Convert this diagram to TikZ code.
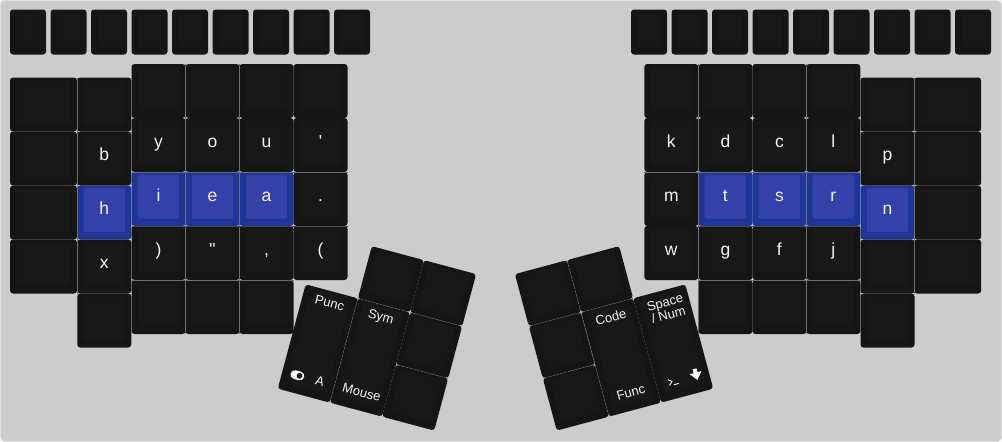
\documentclass[tikz,border=0pt]{standalone}
\usepackage{fontspec}
\usepackage{xcolor}
\newfontfamily\legendfont{Liberation Sans}
\definecolor{panelgray}{HTML}{CCCCCC}
\definecolor{paneledge}{HTML}{E2E2E2}
\definecolor{keyside}{HTML}{151515}
\definecolor{keytop}{HTML}{181818}
\definecolor{blueside}{HTML}{1F3596}
\definecolor{bluetop}{HTML}{3441A8}
\definecolor{seamgray}{HTML}{6E6E6E}
\definecolor{legendwhite}{HTML}{F4F4F4}

\begin{document}
\begin{tikzpicture}[x=1pt, y=-1pt,
base cap/.style={rectangle, inner sep=0pt, outer sep=0pt, rounded corners=3pt, minimum width=54pt, minimum height=54pt, text=legendwhite, text height=5pt, text depth=1pt, font=\legendfont\fontsize{17.5}{18}\selectfont},
cap face/.style={path picture={\fill[#1, rounded corners=2pt] ([xshift=6.3pt,yshift=7.3pt]path picture bounding box.south west) rectangle ([xshift=-6.3pt,yshift=-2.8pt]path picture bounding box.north east);}},
dark key/.style={base cap, fill=keyside, cap face=keytop},
blue key/.style={base cap, fill=blueside, cap face=bluetop},
wide key/.style={dark key, minimum width=67pt},
fn key/.style={base cap, fill=keyside, minimum width=36pt, minimum height=45pt, cap face=keytop},
thumb key/.style={base cap, fill=keyside, transform shape},
tall key/.style={thumb key, minimum height=108pt},
thumb face/.style={rectangle, inner sep=0pt, outer sep=0pt, fill=keytop, rounded corners=2pt, minimum width=41.4pt, minimum height=43.9pt, transform shape},
tall face/.style={thumb face, minimum height=97.9pt},
legend/.style={inner sep=0pt, outer sep=0pt, text=legendwhite, transform shape, font=\legendfont\fontsize{13}{11}\selectfont},
seam/.style={draw=seamgray, line width=0.5pt},
faint seam/.style={draw=seamgray!60!keyside, line width=0.4pt},
thumb seam/.style={draw=seamgray, line width=0.5pt, dash pattern=on 1.6pt off 1pt}]
\useasboundingbox (0,0) rectangle (1002,442);
\draw[fill=panelgray, draw=paneledge, line width=1pt, rounded corners=4pt] (0.5,0.5) rectangle (1001.5,441.5);
% function rows
\node[fn key] (ft1) at (28,32) {};
\node[fn key] (ft2) at (68.5,32) {};
\node[fn key] (ft3) at (109,32) {};
\node[fn key] (ft4) at (149.5,32) {};
\node[fn key] (ft5) at (190,32) {};
\node[fn key] (ft6) at (230.5,32) {};
\node[fn key] (ft7) at (271,32) {};
\node[fn key] (ft8) at (311.5,32) {};
\node[fn key] (ft9) at (352,32) {};
\node[fn key] (ft10) at (649,32) {};
\node[fn key] (ft11) at (689.5,32) {};
\node[fn key] (ft12) at (730,32) {};
\node[fn key] (ft13) at (770.5,32) {};
\node[fn key] (ft14) at (811,32) {};
\node[fn key] (ft15) at (851.5,32) {};
\node[fn key] (ft16) at (892,32) {};
\node[fn key] (ft17) at (932.5,32) {};
\node[fn key] (ft18) at (973,32) {};
% left hand
\node[wide key] (l00) at (43.5,104.5) {};
\node[wide key] (l01) at (43.5,158.5) {};
\node[wide key] (l02) at (43.5,212.5) {};
\node[wide key] (l03) at (43.5,266.5) {};
\node[dark key] (l10) at (104.25,104.5) {};
\node[dark key] (l11) at (104.25,158.5) {b};
\node[blue key] (l12) at (104.25,212.5) {h};
\node[dark key] (l13) at (104.25,266.5) {x};
\node[dark key] (l14) at (104.25,320.5) {};
\node[dark key] (l20) at (158.5,91) {};
\node[dark key] (l21) at (158.5,145) {y};
\node[blue key] (l22) at (158.5,199) {i};
\node[dark key] (l23) at (158.5,253) {)};
\node[dark key] (l24) at (158.5,307) {};
\node[dark key] (l30) at (212.5,91) {};
\node[dark key] (l31) at (212.5,145) {o};
\node[blue key] (l32) at (212.5,199) {e};
\node[dark key] (l33) at (212.5,253) {"};
\node[dark key] (l34) at (212.5,307) {};
\node[dark key] (l40) at (266.5,91) {};
\node[dark key] (l41) at (266.5,145) {u};
\node[blue key] (l42) at (266.5,199) {a};
\node[dark key] (l43) at (266.5,253) {,};
\node[dark key] (l44) at (266.5,307) {};
\node[dark key] (l50) at (320.5,91) {};
\node[dark key] (l51) at (320.5,145) {'};
\node[dark key] (l52) at (320.5,199) {.};
\node[dark key] (l53) at (320.5,253) {(};
% right hand
\node[dark key] (r00) at (671.3,91) {};
\node[dark key] (r01) at (671.3,145) {k};
\node[dark key] (r02) at (671.3,199) {m};
\node[dark key] (r03) at (671.3,253) {w};
\node[dark key] (r10) at (725.4,91) {};
\node[dark key] (r11) at (725.4,145) {d};
\node[blue key] (r12) at (725.4,199) {t};
\node[dark key] (r13) at (725.4,253) {g};
\node[dark key] (r14) at (725.4,307) {};
\node[dark key] (r20) at (779.4,91) {};
\node[dark key] (r21) at (779.4,145) {c};
\node[blue key] (r22) at (779.4,199) {s};
\node[dark key] (r23) at (779.4,253) {f};
\node[dark key] (r24) at (779.4,307) {};
\node[dark key] (r30) at (833.4,91) {};
\node[dark key] (r31) at (833.4,145) {l};
\node[blue key] (r32) at (833.4,199) {r};
\node[dark key] (r33) at (833.4,253) {j};
\node[dark key] (r34) at (833.4,307) {};
\node[dark key] (r40) at (887.5,104.5) {};
\node[dark key] (r41) at (887.5,158.5) {p};
\node[blue key] (r42) at (887.5,212.5) {n};
\node[dark key] (r43) at (887.5,266.5) {};
\node[dark key] (r44) at (887.5,320.5) {};
\node[wide key] (r50) at (947.7,104.5) {};
\node[wide key] (r51) at (947.7,158.5) {};
\node[wide key] (r52) at (947.7,212.5) {};
\node[wide key] (r53) at (947.7,266.5) {};
% seams
\draw[seam] (l00.north east) -- (l03.south east);
\draw[seam] (l20.north east) -- (l24.south east);
\draw[seam] (l30.north east) -- (l34.south east);
\draw[seam] (l22.north west) -- (l52.north east);
\draw[seam] (l24.north west) -- (l44.north east);
\draw[faint seam] (l23.north west) -- (l53.north east);
\draw[seam] (r10.north west) -- (r14.south west);
\draw[seam] (r20.north east) -- (r24.south east);
\draw[seam] (r50.north west) -- (r53.south west);
\draw[seam] (r02.north west) -- (r32.north east);
\draw[seam] (r14.north west) -- (r34.north east);
\draw[faint seam] (r13.north west) -- (r33.north east);
% left thumb
\begin{scope}[shift={(410,312.3)}, rotate=-15]
\node[tall key] (lt1) at (-81,54) {};
\node[tall key] (lt2) at (-27,54) {};
\node[thumb key] (lt3) at (-27,-27) {};
\node[thumb key] (lt4) at (27,-27) {};
\node[thumb key] (lt5) at (27,27) {};
\node[thumb key] (lt6) at (27,81) {};
\node[tall face] (lf1) at (-81,51.8) {};
\node[tall face] (lf2) at (-27,51.8) {};
\node[thumb face] (lf3) at (-27,-29.2) {};
\node[thumb face] (lf4) at (27,-29.2) {};
\node[thumb face] (lf5) at (27,24.8) {};
\node[thumb face] (lf6) at (27,78.8) {};
\draw[thumb seam] (lt1.north east) -- (lt1.south east);
\draw[thumb seam] (lt3.south west) -- (lt4.south east);
\draw[thumb seam] (lt5.south west) -- (lt5.south east);
\node[legend] (punc) at (-80,12) {Punc};
\node[legend] (sym) at (-27,12.5) {Sym};
\node[legend] (mouse) at (-26,90) {Mouse};
\node[legend] (akey) at (-69,90) {A};
\fill[white, rounded corners=4.4pt] (-99.5,85.6) rectangle (-85.5,94.4);
\fill[keytop] (-90.3,90) circle (2.9);
\end{scope}
% right thumb
\begin{scope}[shift={(581,312.3)}, rotate=15]
\node[tall key] (rt1) at (81,54) {};
\node[tall key] (rt2) at (27,54) {};
\node[thumb key] (rt3) at (27,-27) {};
\node[thumb key] (rt4) at (-27,-27) {};
\node[thumb key] (rt5) at (-27,27) {};
\node[thumb key] (rt6) at (-27,81) {};
\node[tall face] (rf1) at (81,51.8) {};
\node[tall face] (rf2) at (27,51.8) {};
\node[thumb face] (rf3) at (27,-29.2) {};
\node[thumb face] (rf4) at (-27,-29.2) {};
\node[thumb face] (rf5) at (-27,24.8) {};
\node[thumb face] (rf6) at (-27,78.8) {};
\draw[thumb seam] (rt4.north east) -- (rt5.south east);
\draw[thumb seam] (rt2.north west) -- (rt2.south west);
\draw[thumb seam] (rt4.south west) -- (rt3.south east);
\draw[thumb seam] (rt5.south west) -- (rt5.south east);
\node[legend] (code) at (27.5,12.5) {Code};
\node[legend] (func) at (27.5,90) {Func};
\node[legend, align=center] (spacenum) at (83.7,18.5) {Space\\/ Num};
\draw[white, line width=0.9pt] (66.5,87.5) -- (70,90.5) -- (66.5,93.5);
\draw[white, line width=0.9pt] (71,94) -- (76,94);
\fill[white] (93,84) -- (97,84) -- (97,88) -- (101,88) -- (95,95.5) -- (89,88) -- (93,88) -- cycle;
\end{scope}
\end{tikzpicture}
\end{document}
